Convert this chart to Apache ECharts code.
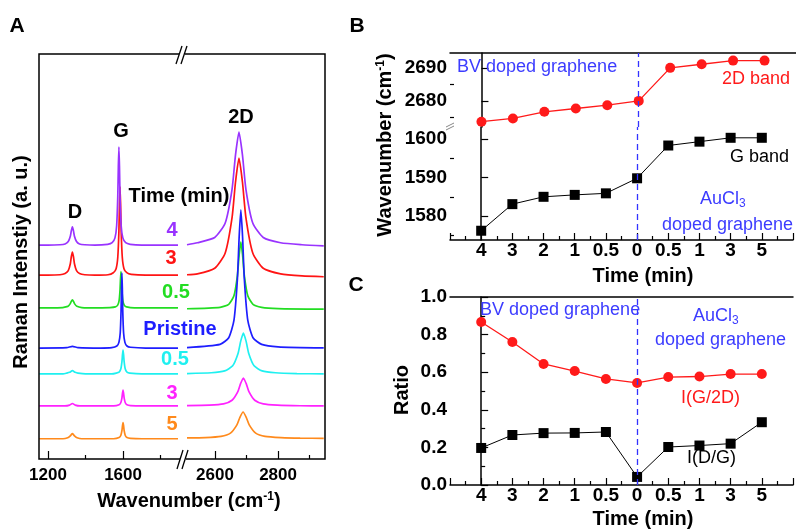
<!DOCTYPE html>
<html>
<head>
<meta charset="utf-8">
<script src="https://cdn.jsdelivr.net/npm/echarts@6/dist/echarts.min.js"></script>
<style>html,body{margin:0;padding:0;background:#fff}#c{width:796px;height:529px}</style>
</head>
<body>
<div id="c"></div>
<script>
// ---------- Panel A: Raman spectra (wavenumber, intensity a.u., offset stacked) ----------
const purpleL = [[1153,52.8],[1200,52.8],[1264,52.9],[1291,53.1],[1308,53.7],[1319,55.0],[1324.5,56.4],[1330,57.3],[1335.5,56.4],[1341,55.0],[1352,53.7],[1368,53.1],[1396,52.9],[1450,52.8],[1518,53.0],[1542,53.4],[1557,54.6],[1566,57.6],[1572,64.9],[1575,72.2],[1578,77.0],[1581,72.2],[1584,64.9],[1590,57.6],[1599,54.6],[1614,53.4],[1638,53.0],[1700,52.8],[1800,52.8],[1893,52.8]];
const purpleR = [[2511,52.9],[2544,53.4],[2599,54.7],[2632,58.2],[2654,66.6],[2665,75.1],[2676,80.7],[2687,75.1],[2698,66.6],[2720,58.2],[2753,54.7],[2808,53.4],[2876,52.9],[2945,52.6]];
const redL = [[1153,45.4],[1200,45.4],[1264,45.5],[1291,45.8],[1308,46.5],[1319,48.2],[1324.5,50.0],[1330,51.1],[1335.5,50.0],[1341,48.2],[1352,46.5],[1368,45.8],[1396,45.5],[1450,45.4],[1520,45.5],[1548,46.0],[1563,47.0],[1572,49.8],[1578,56.3],[1581,62.8],[1584,67.2],[1587,62.8],[1590,56.3],[1596,49.8],[1605,47.0],[1620,46.0],[1644,45.6],[1720,45.4],[1800,45.4],[1893,45.4]];
const redR = [[2511,45.5],[2544,45.7],[2599,47.1],[2632,50.8],[2654,59.6],[2665,68.4],[2676,74.3],[2687,68.4],[2698,59.6],[2720,50.8],[2753,47.1],[2808,45.7],[2876,45.2],[2945,45.0]];
const greenL = [[1153,37.3],[1250,37.3],[1306,37.7],[1318,38.3],[1324,38.9],[1330,39.3],[1336,38.9],[1342,38.3],[1354,37.7],[1380,37.4],[1450,37.3],[1530,37.4],[1559,37.55],[1571.5,38.0],[1579,39.1],[1584,41.8],[1586.5,44.5],[1589,46.3],[1591.5,44.5],[1594,41.8],[1599,39.1],[1606.5,38.0],[1619,37.55],[1660,37.3],[1800,37.3],[1893,37.3]];
const greenR = [[2511,37.1],[2616,37.45],[2643.5,38.2],[2660,40.3],[2671,45.3],[2676.5,50.3],[2682,53.6],[2687.5,50.3],[2693,45.3],[2704,40.3],[2720.5,38.2],[2748,37.45],[2800,37.15],[2945,37.0]];
const blueL = [[1153,27.4],[1300,27.5],[1330,27.8],[1360,27.5],[1480,27.4],[1540,27.5],[1567,27.9],[1578,28.8],[1585,31.1],[1589.5,36.6],[1591.75,42.2],[1594,45.9],[1596.25,42.2],[1598.5,36.6],[1603,31.1],[1610,28.8],[1621,27.9],[1640,27.6],[1720,27.4],[1893,27.4]];
const blueR = [[2511,27.5],[2616,28.3],[2643.5,29.95],[2660,34.2],[2671,44.45],[2676.5,54.7],[2682,61.5],[2687.5,54.7],[2693,44.45],[2704,34.2],[2720.5,29.95],[2748,28.3],[2800,27.7],[2945,27.45]];
const cyanL = [[1153,21.0],[1280,21.0],[1300,21.2],[1315,21.4],[1330,21.8],[1345,21.4],[1360,21.2],[1400,21.0],[1540,21.0],[1564,21.2],[1579,21.45],[1588,22.2],[1594,24.0],[1597,25.7],[1600,26.9],[1603,25.7],[1606,24.0],[1612,22.2],[1621,21.45],[1636,21.2],[1700,21.0],[1893,21.0]];
const cyanR = [[2511,21.1],[2588,21.3],[2630.5,21.75],[2656,23.0],[2673,26.05],[2681.5,29.1],[2690,31.1],[2698.5,29.1],[2707,26.05],[2724,23.0],[2749.5,21.75],[2792,21.3],[2860,21.1],[2945,21.0]];
const magentaL = [[1153,13.1],[1290,13.1],[1315,13.3],[1330,13.7],[1345,13.3],[1370,13.1],[1550,13.1],[1579,13.4],[1588,13.9],[1594,15.05],[1597,16.2],[1600,17.0],[1603,16.2],[1606,15.05],[1612,13.9],[1621,13.4],[1640,13.2],[1700,13.1],[1893,13.1]];
const magentaR = [[2511,13.2],[2582,13.3],[2627,13.6],[2654,14.5],[2672,16.55],[2681,18.6],[2690,20.0],[2699,18.6],[2708,16.55],[2726,14.5],[2753,13.6],[2798,13.3],[2870,13.15],[2945,13.1]];
const orangeL = [[1153,5.0],[1280,5.0],[1305,5.25],[1317.5,5.65],[1324,6.0],[1330,6.3],[1336,6.0],[1342.5,5.65],[1355,5.25],[1380,5.0],[1550,5.0],[1579,5.3],[1588,5.8],[1594,7.0],[1597,8.2],[1600,9.0],[1603,8.2],[1606,7.0],[1612,5.8],[1621,5.3],[1640,5.1],[1700,5.0],[1893,5.0]];
const orangeR = [[2511,5.2],[2569,5.3],[2619,5.6],[2649,6.4],[2669,8.35],[2679,10.3],[2689,11.6],[2699,10.3],[2709,8.35],[2729,6.4],[2759,5.6],[2809,5.3],[2870,5.15],[2945,5.1]];
const spectraLabels = ['4','3','0.5','Pristine','0.5','3','5'];
const ticksALeft = [1200, 1600], minorALeft = [1400, 1800];
const ticksARight = [2600, 2800], minorARight = [2700, 2900];

// ---------- Panels B & C ----------
const timeLabels = ['4','3','2','1','0.5','0','0.5','1','3','5'];
const band2D = [2673.7, 2674.7, 2676.7, 2677.7, 2678.7, 2680.0, 2690.0, 2691.1, 2692.2, 2692.2];
const bandG  = [1576.2, 1583.1, 1585.0, 1585.5, 1585.9, 1589.8, 1598.3, 1599.3, 1600.3, 1600.3];
const ratioG2D = [0.867, 0.761, 0.644, 0.606, 0.564, 0.543, 0.574, 0.577, 0.590, 0.590];
const ratioDG  = [0.197, 0.266, 0.276, 0.277, 0.282, 0.043, 0.202, 0.210, 0.220, 0.334];
const ticksBUp = [2680, 2690], minorBUp = [2675, 2685];
const ticksBLow = [1580, 1590, 1600], minorBLow = [1575, 1585, 1595];

const FF = "'Liberation Sans', Arial, sans-serif";
const BLUE_T = '#3c3cff';
const chart = echarts.init(document.getElementById('c'), null, {renderer:'canvas'});

const lbl = (size, extra) => Object.assign({fontFamily:FF, fontWeight:'bold', fontSize:size, color:'#000'}, extra||{});
const blackLine = {color:'#000', width:1.5};
const tickStyle = {color:'#000', width:1.2};
const plain = v => String(v);

function aX(grid, min, max, major, isMinor) {
  return {gridIndex:grid, type:'value', min, max, position:'bottom',
    axisLine:{show:false}, splitLine:{show:false},
    axisTick:{show:true, inside:true, length: isMinor?4:8, customValues: major, lineStyle:tickStyle},
    axisLabel: isMinor ? {show:false} : Object.assign(lbl(17), {customValues: major, margin:8, formatter:plain})};
}
function bY(grid, min, max, vals, isMinor) {
  return {gridIndex:grid, type:'value', min, max, position:'left',
    axisLine:{show:!isMinor, lineStyle:blackLine}, splitLine:{show:false},
    axisTick:{show:true, inside:true, length: isMinor?4:7, customValues: vals, lineStyle:tickStyle},
    axisLabel: isMinor ? {show:false} : Object.assign(lbl(19), {customValues: vals, margin:3, formatter:plain})};
}
function timeX(grid, pos, withTicks) {
  return {gridIndex:grid, type:'value', min:-1, max:10, interval:1, position:pos,
    axisLine:{show:true, onZero:false, lineStyle:blackLine}, splitLine:{show:false},
    axisTick:{show:withTicks, inside:true, length:7, lineStyle:tickStyle},
    minorTick:{show:withTicks, splitNumber:2, length:4, lineStyle:tickStyle},
    axisLabel: withTicks ? Object.assign(lbl(19), {margin:1, formatter: v => (timeLabels[v] !== undefined ? timeLabels[v] : '')}) : {show:false}};
}

const specs = [
  [orangeL, orangeR, '#ff8a1c'],
  [magentaL, magentaR, '#ff22ff'],
  [cyanL, cyanR, '#1ff0f0'],
  [greenL, greenR, '#22dd22'],
  [blueL, blueR, '#1e1eff'],
  [redL, redR, '#ff1414'],
  [purpleL, purpleR, '#9933ff']
];
const series = [];
specs.forEach(([L, R, col]) => {
  [[L,0,0],[R,2,1]].forEach(([d, xi, yi]) => series.push({
    type:'line', data:d, xAxisIndex:xi, yAxisIndex:yi, showSymbol:false, smooth:0.2,
    lineStyle:{color:col, width:1.7}, silent:true, z:3
  }));
});
const vline = {silent:true, symbol:['none','none'], label:{show:false},
  lineStyle:{color:'#3333ff', type:[6,4], width:1.3}, data:[{xAxis:5}]};
const idx = a => a.map((v,i) => [i, v]);
series.push(
  {type:'line', data:idx(band2D), xAxisIndex:4, yAxisIndex:2, symbol:'circle', symbolSize:10,
   itemStyle:{color:'#ff1a1a'}, lineStyle:{color:'#ff1a1a', width:1.3}, markLine:vline, z:4},
  {type:'line', data:idx(bandG), xAxisIndex:5, yAxisIndex:4, symbol:'rect', symbolSize:10,
   itemStyle:{color:'#000'}, lineStyle:{color:'#000', width:1}, markLine:vline, z:4},
  {type:'line', data:idx(ratioG2D), xAxisIndex:6, yAxisIndex:6, symbol:'circle', symbolSize:10,
   itemStyle:{color:'#ff1a1a'}, lineStyle:{color:'#ff1a1a', width:1.3}, markLine:vline, z:4},
  {type:'line', data:idx(ratioDG), xAxisIndex:6, yAxisIndex:6, symbol:'rect', symbolSize:10,
   itemStyle:{color:'#000'}, lineStyle:{color:'#000', width:1}, z:4}
);

function T(text, x, y, o) {
  o = o || {};
  const st = {text, fill:o.color||'#000', font:(o.weight||'bold')+' '+(o.size||20)+'px '+FF,
    align:o.align||'center', verticalAlign:'middle', textAlign:o.align||'center', textVerticalAlign:'middle'};
  if (o.rich) st.rich = o.rich;
  const el = {type:'text', x, y, style:st, z:200, silent:true};
  if (o.rot) el.rotation = o.rot;
  return el;
}
const supRich = {s:{font:'bold 12px '+FF, verticalAlign:'top', fill:'#000', padding:[0,0,8,0]}};
const subRich = {s:{font:'12px '+FF, fill:BLUE_T, padding:[10,0,0,0]}};
const specColors = ['#9933ff','#ff1414','#22dd22','#1e1eff','#1ff0f0','#ff22ff','#ff8a1c'];
const specLabelPos = [[172,230],[171,258],[176,292],[180,329],[175,359],[172,393],[172,424]];

const graphics = [
  {type:'rect', shape:{x:39,y:54,width:286,height:405}, style:{fill:'none', stroke:'#000', lineWidth:1.5}, z:150, silent:true},
  {type:'rect', shape:{x:179,y:50,width:6,height:8}, style:{fill:'#fff'}, z:151, silent:true},
  {type:'line', shape:{x1:176,y1:64,x2:182,y2:46}, style:{stroke:'#000', lineWidth:1.3}, z:152, silent:true},
  {type:'line', shape:{x1:181,y1:64,x2:187,y2:46}, style:{stroke:'#000', lineWidth:1.3}, z:152, silent:true},
  {type:'rect', shape:{x:180,y:455,width:6,height:8}, style:{fill:'#fff'}, z:151, silent:true},
  {type:'line', shape:{x1:177,y1:469,x2:183,y2:450}, style:{stroke:'#000', lineWidth:1.3}, z:152, silent:true},
  {type:'line', shape:{x1:182,y1:469,x2:188,y2:450}, style:{stroke:'#000', lineWidth:1.3}, z:152, silent:true},
  {type:'rect', shape:{x:447,y:124,width:7,height:5}, style:{fill:'#fff'}, z:151, silent:true},
  {type:'line', shape:{x1:446,y1:127,x2:454,y2:123}, style:{stroke:'#888', lineWidth:1}, z:152, silent:true},
  {type:'line', shape:{x1:446,y1:130,x2:454,y2:126}, style:{stroke:'#888', lineWidth:1}, z:152, silent:true},
  T('A', 17, 26, {size:21}), T('B', 357, 26, {size:21}), T('C', 356, 285, {size:21}),
  T('D', 75, 212), T('G', 121, 131), T('2D', 241, 117), T('Time (min)', 179, 196),
  T('Raman Intenstiy (a. u.)', 21, 262, {rot:Math.PI/2}),
  T('Wavenumber (cm{s|-1})', 189, 501, {rich:supRich}),
  T('Wavenumber (cm{s|-1})', 385, 145, {rot:Math.PI/2, rich:supRich}),
  T('BV doped graphene', 457, 67, {weight:'normal', size:18, color:BLUE_T, align:'left'}),
  T('2D band', 722, 79, {weight:'normal', size:18, color:'#ff1a1a', align:'left'}),
  T('G band', 730, 157, {weight:'normal', size:18, align:'left'}),
  T('AuCl{s|3}', 700, 199, {weight:'normal', size:18, color:BLUE_T, align:'left', rich:subRich}),
  T('doped graphene', 662, 225, {weight:'normal', size:18, color:BLUE_T, align:'left'}),
  T('Time (min)', 643, 276),
  T('Ratio', 402, 390, {rot:Math.PI/2}),
  T('BV doped graphene', 480, 310, {weight:'normal', size:18, color:BLUE_T, align:'left'}),
  T('AuCl{s|3}', 693, 316, {weight:'normal', size:18, color:BLUE_T, align:'left', rich:subRich}),
  T('doped graphene', 655, 340, {weight:'normal', size:18, color:BLUE_T, align:'left'}),
  T('I(G/2D)', 681, 398, {weight:'normal', size:18, color:'#ff1a1a', align:'left'}),
  T('I(D/G)', 687, 458, {weight:'normal', size:18, align:'left'}),
  T('Time (min)', 643, 519)
];
spectraLabels.forEach((s, i) => graphics.push(T(s, specLabelPos[i][0], specLabelPos[i][1], {color:specColors[i]})));

chart.setOption({
  animation:false,
  backgroundColor:'#fff',
  grid:[
    {left:39, top:54, width:142, height:405},
    {left:181, top:54, width:144, height:405},
    {left:450, top:53, width:353, height:74},
    {left:450, top:127, width:353, height:113},
    {left:450, top:297, width:353, height:188}
  ],
  xAxis:[
    aX(0, 1152, 1909, ticksALeft, false),
    aX(0, 1152, 1909, minorALeft, true),
    aX(1, 2492, 2949, ticksARight, false),
    aX(1, 2492, 2949, minorARight, true),
    timeX(2, 'top', false),
    timeX(3, 'bottom', true),
    timeX(4, 'bottom', true),
    timeX(4, 'top', false)
  ],
  yAxis:[
    {gridIndex:0, type:'value', min:0, max:100, show:false},
    {gridIndex:1, type:'value', min:0, max:100, show:false},
    bY(2, 2672.1, 2694.5, ticksBUp, false),
    bY(2, 2672.1, 2694.5, minorBUp, true),
    bY(3, 1573.8, 1603.1, ticksBLow, false),
    bY(3, 1573.8, 1603.1, minorBLow, true),
    {gridIndex:4, type:'value', min:0, max:1, interval:0.2, position:'left',
     axisLine:{show:true, lineStyle:blackLine}, splitLine:{show:false},
     axisTick:{inside:true, length:7, lineStyle:tickStyle},
     minorTick:{show:true, splitNumber:2, length:4, lineStyle:tickStyle},
     axisLabel:Object.assign(lbl(19), {margin:3, formatter: v => v.toFixed(1)})}
  ],
  series,
  graphic:{elements:graphics}
});
</script>
</body>
</html>
